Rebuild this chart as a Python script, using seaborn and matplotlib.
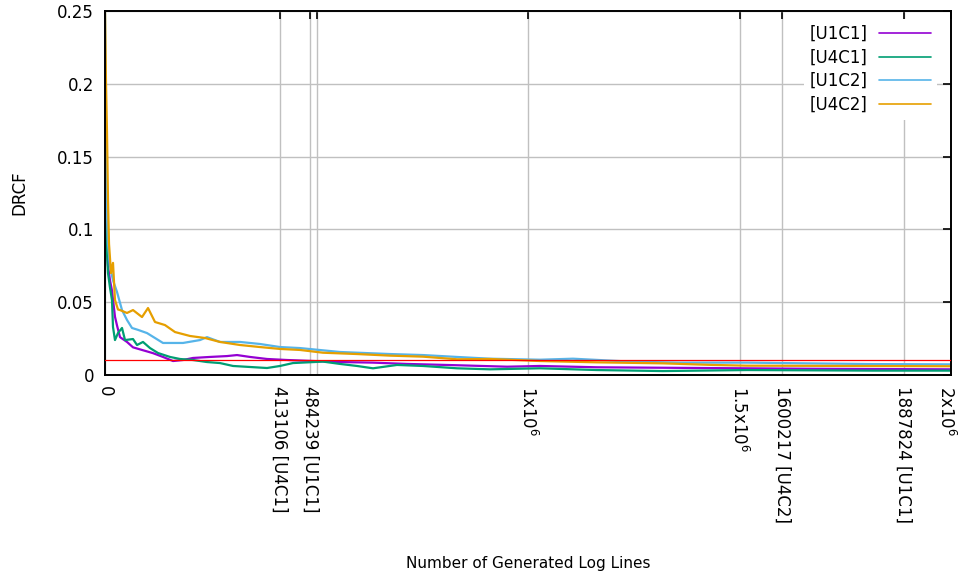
import matplotlib
matplotlib.use("Agg")
import matplotlib.pyplot as plt
import matplotlib.transforms as mtransforms
import numpy as np
import pandas as pd
import seaborn as sns

# values (number of log lines -> DRCF)
x_u1c1 = [0, 2400, 7100, 11800, 16500, 23600, 28400, 35500, 52000, 66200, 89800,
          113500, 137100, 160800, 184400, 208000, 248200, 288400, 312100, 342800,
          383000, 430300, 555600, 633600, 713900, 832200, 950400, 1028400, 1163100,
          1406600, 1659600, 1815600, 2000000]
y_u1c1 = [0.13, 0.10, 0.075, 0.065, 0.058, 0.040, 0.034, 0.026, 0.0227, 0.019, 0.017,
          0.015, 0.0124, 0.0096, 0.0103, 0.0117, 0.0124, 0.013, 0.0137, 0.0124,
          0.011, 0.0103, 0.0089, 0.0085, 0.0076, 0.0067, 0.0057, 0.0062, 0.0053,
          0.0048, 0.0043, 0.0041, 0.0039]

x_u4c1 = [0, 2400, 7100, 11800, 16500, 18900, 23600, 30700, 40200, 47300, 66200,
          75700, 89800, 106400, 125300, 153700, 177300, 208000, 241100, 271900,
          302600, 342800, 383000, 413700, 444400, 515400, 555600, 595700, 633600,
          690300, 751800, 832200, 910200, 1028400, 1163100, 1319100, 1517700,
          1815600, 2000000]
y_u4c1 = [0.125, 0.0975, 0.07, 0.06, 0.0515, 0.033, 0.024, 0.0288, 0.0323, 0.024, 0.0247,
          0.0206, 0.0227, 0.0185, 0.0151, 0.0124, 0.011, 0.0103, 0.0089, 0.0082,
          0.0062, 0.0055, 0.0048, 0.0062, 0.0082, 0.0092, 0.0076, 0.0062, 0.0046,
          0.0069, 0.0062, 0.0046, 0.0039, 0.0046, 0.0034, 0.0027, 0.0034,
          0.003, 0.003]

x_u1c2 = [0, 2400, 4700, 7100, 11800, 18900, 28400, 40200, 52000, 63800, 78000,
          99300, 118200, 137100, 158400, 184400, 224600, 241100, 271900, 319100,
          366400, 413700, 461000, 555600, 673800, 751800, 832200, 910200, 1028400,
          1106400, 1241100, 1359300, 1517700, 1659600, 1815600, 2000000]
y_u1c2 = [0.25, 0.13, 0.11, 0.09, 0.075, 0.065, 0.057, 0.0446, 0.0378, 0.0323, 0.031,
          0.0288, 0.0254, 0.022, 0.022, 0.022, 0.024, 0.026, 0.0227, 0.0227,
          0.0213, 0.0192, 0.0185, 0.0158, 0.0144, 0.0137, 0.0124, 0.0112, 0.0105,
          0.0112, 0.0092, 0.0085, 0.0085, 0.008, 0.0075, 0.0073]

x_u4c2 = [0, 2400, 4700, 7100, 9500, 14200, 18900, 23600, 30700, 35500, 52000,
          66200, 87500, 101700, 118200, 141800, 165500, 200900, 236400, 271900,
          319100, 366400, 413700, 461000, 515400, 595700, 673800, 751800, 832200,
          910200, 1028400, 1163100, 1319100, 1437400, 1517700, 1659600, 2000000]
y_u4c2 = [0.25, 0.2, 0.167, 0.12, 0.09, 0.07, 0.077, 0.0515, 0.045, 0.0446, 0.0426,
          0.0446, 0.0398, 0.046, 0.0364, 0.0343, 0.0295, 0.0268, 0.0254, 0.0227,
          0.0206, 0.0192, 0.0179, 0.0172, 0.0153, 0.0144, 0.0133, 0.0126, 0.0108,
          0.011, 0.0096, 0.0087, 0.008, 0.0069, 0.0064, 0.0063, 0.006]

series = ["[U1C1]", "[U4C1]", "[U1C2]", "[U4C2]"]
colors = ["#9400d3", "#009e73", "#56b4e9", "#e69f00"]
threshold = 0.01

tick_pos = [0, 413106, 484239, 500000, 1000000, 1500000, 1600217, 1887824, 2000000]
tick_labels = ["0", "413106 [U4C1]", "484239 [U1C1]", "", r"1x10$^{6}$",
               r"1.5x10$^{6}$", "1600217 [U4C2]", "1887824 [U1C1]", r"2x10$^{6}$"]
y_ticks = [0, 0.05, 0.1, 0.15, 0.2, 0.25]
y_labels = ["0", "0.05", "0.1", "0.15", "0.2", "0.25"]

frames = []
for name, xs, ys in zip(series, [x_u1c1, x_u4c1, x_u1c2, x_u4c2],
                        [y_u1c1, y_u4c1, y_u1c2, y_u4c2]):
    frames.append(pd.DataFrame({"lines": xs, "drcf": ys, "run": name}))
df = pd.concat(frames, ignore_index=True)

sns.set_theme(style="white")
plt.rcParams.update({
    "font.family": ["DejaVu Sans"],
    "mathtext.default": "regular",
    "text.color": "black",
    "axes.labelcolor": "black",
    "xtick.color": "black",
    "ytick.color": "black",
})
fs = 12

fig = plt.figure(figsize=(9.59, 5.81), dpi=100)
ax = fig.add_axes([105 / 959, 1 - 375 / 581, 846 / 959, 364 / 581])

sns.lineplot(data=df, x="lines", y="drcf", hue="run", hue_order=series,
             palette=colors, linewidth=1.6, ax=ax, estimator=None, sort=True)
ax.axhline(threshold, color="#ff0000", linewidth=0.9, zorder=5)

ax.set_xlim(0, 2000000)
ax.set_ylim(0, 0.25)
ax.set_xticks(tick_pos)
ax.set_xticklabels(tick_labels, rotation=-90, fontsize=fs)
ax.set_yticks(y_ticks)
ax.set_yticklabels(y_labels, fontsize=fs)
ax.tick_params(direction="in", length=6, width=1.2, top=True, right=True,
               colors="black", pad=8)
ax.grid(True, color="#c0c0c0", linewidth=1.0)
ax.set_axisbelow(True)
for sp in ax.spines.values():
    sp.set_color("black")
    sp.set_linewidth(1.4)

# keep the last label inside the canvas
last = ax.get_xticklabels()[-1]
last.set_transform(last.get_transform() +
                   mtransforms.ScaledTranslation(-5 / 100, 0, fig.dpi_scale_trans))

ax.set_xlabel("Number of Generated Log Lines", fontsize=11)
ax.xaxis.set_label_coords(0.5, -(556 - 375) / 364)
ax.set_ylabel("DRCF", fontsize=fs)
ax.yaxis.set_label_coords(-(105 - 28) / 846, 0.5)

handles, labels = ax.get_legend_handles_labels()
leg = ax.legend(handles, labels, loc="upper right", bbox_to_anchor=(0.983, 0.978),
                borderaxespad=0, borderpad=0.35, markerfirst=False, frameon=True,
                fancybox=False, framealpha=1, facecolor="white", edgecolor="none",
                handlelength=3.1, handletextpad=0.7, labelspacing=0.34,
                fontsize=fs)
for ln in leg.get_lines():
    ln.set_linewidth(1.2)

fig.savefig("out.png", dpi=100)
plt.close(fig)
